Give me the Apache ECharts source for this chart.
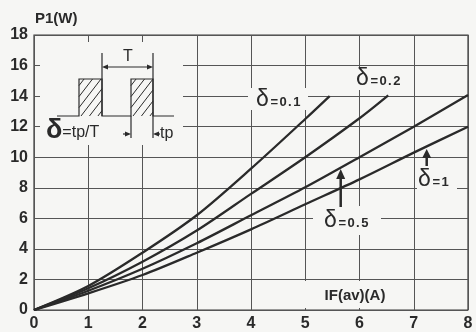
<!DOCTYPE html>
<html>
<head>
<meta charset="utf-8">
<script src="https://cdn.jsdelivr.net/npm/echarts@6/dist/echarts.min.js"></script>
<style>
  html, body { margin: 0; padding: 0; background: #f6f6f4; }
  #chart { width: 476px; height: 332px; }
</style>
</head>
<body>
<div id="chart"></div>
<script>
// IF(av) in A, P1 in W
const xTicks = [0, 1, 2, 3, 4, 5, 6, 7, 8];
const yTicks = [0, 2, 4, 6, 8, 10, 12, 14, 16, 18];

const d01X = [0, 1, 2, 3, 4, 5, 5.45];
const d01Y = [0, 1.57, 3.75, 6.2, 9.25, 12.5, 14.0];

const d02X = [0, 1, 2, 3, 4, 5, 6, 6.53];
const d02Y = [0, 1.42, 3.16, 5.2, 7.6, 10.0, 12.55, 14.05];

const d05X = [0, 1, 2, 3, 4, 5, 6, 7, 8];
const d05Y = [0, 1.26, 2.7, 4.37, 6.2, 8.03, 10.0, 12.0, 14.07];

const d1X = [0, 1, 2, 3, 4, 5, 6, 7, 8];
const d1Y = [0, 1.09, 2.29, 3.75, 5.28, 6.92, 8.55, 10.3, 12.0];

const BG = '#f6f6f4';
const INK = '#2a2a2a';
const FONT = '"Liberation Sans", Arial, sans-serif';

function pairs(xs, ys) {
  return xs.map((x, i) => [x, ys[i]]);
}

function curve(name, xs, ys) {
  return {
    name: name,
    type: 'line',
    data: pairs(xs, ys),
    smooth: 0.3,
    symbol: 'none',
    lineStyle: { color: INK, width: 2.3 },
    z: 3
  };
}

// little helpers for the inset drawing
function seg(x1, y1, x2, y2, w) {
  return { type: 'line', shape: { x1: x1, y1: y1, x2: x2, y2: y2 },
    style: { stroke: INK, lineWidth: w || 1.2 }, z: 20 };
}
function head(x, y, dir, len, half) {
  // tip at (x,y); dir: 'up' | 'left' | 'right'
  let pts;
  if (dir === 'up') pts = [[x, y], [x - half, y + len], [x + half, y + len]];
  else if (dir === 'left') pts = [[x, y], [x + len, y - half], [x + len, y + half]];
  else pts = [[x, y], [x - len, y - half], [x - len, y + half]];
  return { type: 'polygon', shape: { points: pts }, style: { fill: INK }, z: 20 };
}
function box(x, y, w, h) {
  return { type: 'rect', shape: { x: x, y: y, width: w, height: h },
    style: { fill: BG }, z: 10 };
}
function hatch(x0, y0, w, h, s, step) {
  const out = [];
  for (let b = step * 0.6; b < h + s * w; b += step) {
    const u1 = Math.max(0, (b - h) / s);
    const u2 = Math.min(w, b / s);
    if (u2 > u1) out.push(seg(x0 + u1, y0 + b - s * u1, x0 + u2, y0 + b - s * u2, 1));
  }
  return out;
}
function deltaLabel(x, y, val) {
  // the "=0.1" part is printed with a little letter spacing
  const spaced = ('=' + val).split('').map(c => '{t|' + c + '}').join('');
  return {
    type: 'text', x: x, y: y, z: 20,
    style: {
      text: '{d|δ}' + spaced,
      verticalAlign: 'middle',
      rich: {
        d: { fontSize: 23, fontFamily: FONT, fill: INK, padding: [0, 1, 0, 0] },
        t: { fontSize: 13, fontWeight: 'bold', fontFamily: FONT, fill: INK, padding: [5, 0.7, 0, 0.7] }
      }
    }
  };
}

const graphics = [
  // inset background
  box(40, 42, 143, 103),
  {
    type: 'polyline', z: 20,
    shape: { points: [[57, 116], [79, 116], [79, 79], [102, 79], [102, 116],
      [131, 116], [131, 79], [153, 79], [153, 116], [174, 116]] },
    style: { stroke: INK, lineWidth: 1.2, fill: null }
  },
  ...hatch(79, 79, 23, 37, 1.3, 11),
  ...hatch(131, 79, 22, 37, 1.3, 11),
  seg(102, 53, 102, 116),
  seg(153, 53, 153, 138),
  seg(131, 116, 131, 138),
  seg(106, 67, 149, 67),
  head(102, 67, 'left', 6, 2.5),
  head(153, 67, 'right', 6, 2.5),
  seg(123, 134, 127, 134),
  head(131, 134, 'right', 6, 2.5),
  seg(157, 134, 160, 134),
  head(153, 134, 'left', 6, 2.5),
  { type: 'text', x: 128, y: 57, z: 20,
    style: { text: 'T', fontSize: 16, fontFamily: FONT, fill: INK, align: 'center', verticalAlign: 'middle' } },
  { type: 'text', x: 160, y: 134, z: 20,
    style: { text: 'tp', fontSize: 16, fontFamily: FONT, fill: INK, verticalAlign: 'middle' } },
  {
    type: 'text', x: 46, y: 131, z: 20,
    style: {
      text: '{d|δ}{t|=tp/T}',
      verticalAlign: 'middle',
      rich: {
        d: { fontSize: 27, fontWeight: 'bold', fontFamily: FONT, fill: INK },
        t: { fontSize: 16, fontFamily: FONT, fill: INK, padding: [4, 0, 0, 0] }
      }
    }
  },

  // curve labels
  box(248, 88, 60, 22),
  deltaLabel(256, 100, '0.1'),
  box(351, 68, 58, 22),
  deltaLabel(356, 79, '0.2'),
  box(313, 206, 68, 29),
  deltaLabel(324, 221, '0.5'),
  box(417, 168, 40, 24),
  deltaLabel(418, 180, '1'),
  seg(340.7, 207, 340.7, 176, 2.5),
  head(340.7, 169, 'up', 10, 4.5),
  seg(426.7, 166, 426.7, 156, 2.5),
  head(426.7, 149, 'up', 9, 4.5),

  // axis names
  box(300, 281, 96, 27),
  { type: 'text', x: 355, y: 296, z: 20,
    style: { text: 'IF(av)(A)', fontSize: 15, fontWeight: 'bold', fontFamily: FONT, fill: INK,
      align: 'center', verticalAlign: 'middle' } },
  { type: 'text', x: 35, y: 19, z: 20,
    style: { text: 'P1(W)', fontSize: 15, fontWeight: 'bold', fontFamily: FONT, fill: INK,
      verticalAlign: 'middle' } }
];

const chart = echarts.init(document.getElementById('chart'), null, { renderer: 'canvas' });
chart.setOption({
  backgroundColor: BG,
  animation: false,
  grid: {
    left: 34, right: 8, top: 35, bottom: 22,
    show: true, borderColor: '#3a3a3a', borderWidth: 1.2, backgroundColor: 'transparent'
  },
  xAxis: {
    type: 'value', min: xTicks[0], max: xTicks[xTicks.length - 1], interval: 1,
    axisLine: { show: false }, axisTick: { show: false },
    splitLine: { lineStyle: { color: '#555', width: 1 } },
    axisLabel: { margin: 6, fontSize: 16, fontWeight: 'bold', fontFamily: FONT, color: INK,
      showMinLabel: true, showMaxLabel: true }
  },
  yAxis: {
    type: 'value', min: yTicks[0], max: yTicks[yTicks.length - 1], interval: 2,
    axisLine: { show: false }, axisTick: { show: false },
    splitLine: { lineStyle: { color: '#555', width: 1 } },
    axisLabel: { margin: 6, fontSize: 16, fontWeight: 'bold', fontFamily: FONT, color: INK }
  },
  series: [
    curve('δ=0.1', d01X, d01Y),
    curve('δ=0.2', d02X, d02Y),
    curve('δ=0.5', d05X, d05Y),
    curve('δ=1', d1X, d1Y)
  ],
  graphic: graphics
});
</script>
</body>
</html>
